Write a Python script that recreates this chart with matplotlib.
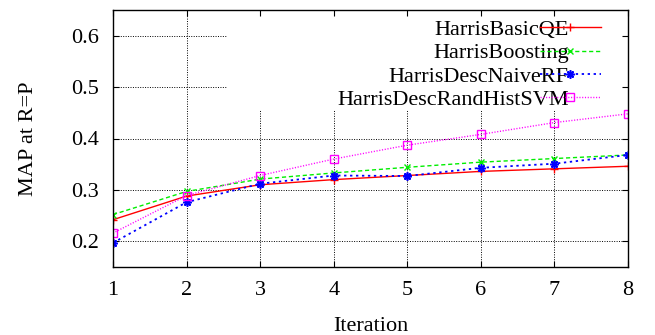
import numpy as np
import matplotlib.pyplot as plt

iterations = [1, 2, 3, 4, 5, 6, 7, 8]
basic_qe = [0.242, 0.288, 0.310, 0.320, 0.328, 0.336, 0.341, 0.346]
boosting = [0.252, 0.297, 0.321, 0.333, 0.344, 0.354, 0.361, 0.368]
naive_rf = [0.197, 0.276, 0.312, 0.328, 0.327, 0.343, 0.351, 0.368]
rand_hist_svm = [0.216, 0.289, 0.328, 0.360, 0.387, 0.408, 0.431, 0.448]

labels = ['HarrisBasicQE', 'HarrisBoosting', 'HarrisDescNaiveRF', 'HarrisDescRandHistSVM']
yticks = [0.2, 0.3, 0.4, 0.5, 0.6]

plt.rcParams['font.family'] = 'Liberation Serif'
plt.rcParams['font.size'] = 16

fig = plt.figure(figsize=(6.55, 3.35), dpi=100)
ax = fig.add_axes([113/655, 68/335, 515/655, 257/335])

# gnuplot style grid, hidden behind the key box
key_x = 2.54
key_y = 0.455
for yt in yticks:
    ax.plot([1, key_x if yt > key_y else 8], [yt, yt], color='k', ls=(0, (1, 1.5)), lw=0.7, zorder=0.5)
for xt in iterations[1:-1]:
    ax.plot([xt, xt], [0.15, key_y if xt > key_x else 0.65], color='k', ls=(0, (1, 1.5)), lw=0.7, zorder=0.5)

ax.plot(iterations, basic_qe, color='#ff0000', lw=1.0, marker='+', ms=6, mew=1, label=labels[0])
ax.plot(iterations, boosting, color='#00ee00', lw=1.0, ls=(0, (3, 2)), marker='x', ms=5, mew=1, label=labels[1])
ax.plot(iterations, naive_rf, color='#0000ff', lw=1.3, ls=(0, (1.3, 2)), marker=(8, 2, 0), ms=6, mew=1.2, label=labels[2])
ax.plot(iterations, rand_hist_svm, color='#ff00ff', lw=1.0, ls=(0, (0.8, 1.2)), marker='s', ms=6, mew=1, mfc='none', label=labels[3])

ax.set_xlim(1, 8)
ax.set_ylim(0.15, 0.65)
ax.set_xticks(iterations)
ax.set_yticks(yticks)
ax.set_yticklabels(['%.1f' % v for v in yticks])
ax.tick_params(direction='in', length=4, width=0.8, top=True, right=True, pad=10)
for s in ax.spines.values():
    s.set_linewidth(1.0)

ax.set_xlabel('Iteration', labelpad=12)
ax.set_ylabel('MAP at R=P', labelpad=24)

leg = ax.legend(loc='upper right', bbox_to_anchor=(0.9476, 0.963), frameon=False, markerfirst=False,
                handlelength=2.75, handletextpad=-1.3, labelspacing=0.12, borderpad=0, borderaxespad=0)
for col in leg._legend_handle_box.get_children():
    col.align = 'right'

fig.savefig('out.png', dpi=100)
